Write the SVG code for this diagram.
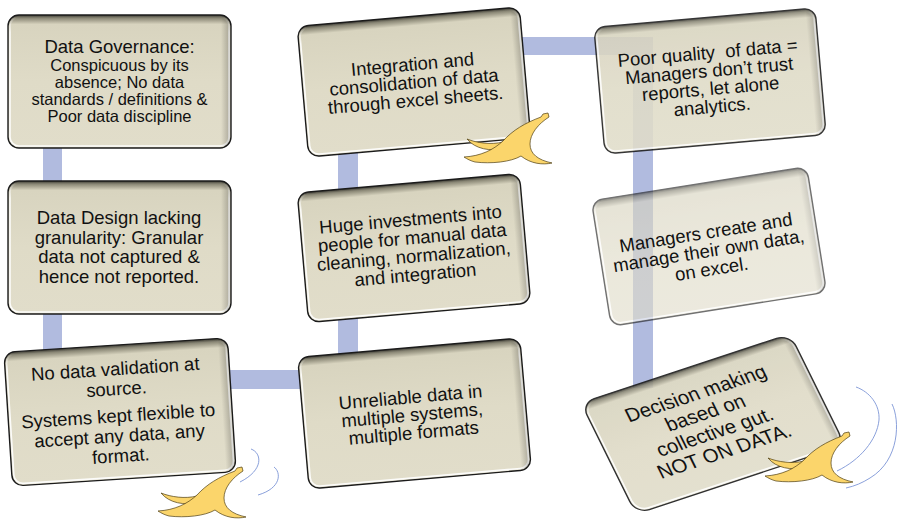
<svg xmlns="http://www.w3.org/2000/svg" xmlns:xlink="http://www.w3.org/1999/xlink" width="897" height="522" viewBox="0 0 897 522">
  <defs>
    <style>
      .face{fill:url(#face);stroke:#1b1b1b;stroke-width:1.4}
      .hl{fill:none;stroke:url(#hl);stroke-width:1.6}
      .rs{fill:url(#rs);stroke:none}
      .t{font-family:"Liberation Sans",Arial,sans-serif;font-size:18.5px;fill:#111;text-anchor:middle}
      .s{font-size:16.5px}
      .bar{fill:#b1bbdf}
      .peel{fill:#fbd56b;stroke:#4d3d12;stroke-width:0.7;stroke-linejoin:round}
      .swoosh{fill:none;stroke:#7d95d6;stroke-width:0.9}
    </style>
    <!-- bevelled card face: dark top lip fading into beige -->
    <linearGradient id="face" x1="0" y1="0" x2="0" y2="1">
      <stop offset="0" stop-color="#3d3c34"/>
      <stop offset="0.025" stop-color="#8d8a78"/>
      <stop offset="0.07" stop-color="#d8d4bf"/>
      <stop offset="0.5" stop-color="#dfdbc7"/>
      <stop offset="1" stop-color="#e1ddca"/>
    </linearGradient>
    <!-- inner highlight on sides and bottom -->
    <linearGradient id="hl" x1="0" y1="0" x2="0" y2="1">
      <stop offset="0" stop-color="#fff" stop-opacity="0"/>
      <stop offset="0.12" stop-color="#fff" stop-opacity="0.9"/>
    </linearGradient>
    <!-- soft shade along the right edge -->
    <linearGradient id="rs" x1="0" y1="0" x2="1" y2="0">
      <stop offset="0.955" stop-color="#000" stop-opacity="0"/>
      <stop offset="0.985" stop-color="#000" stop-opacity="0.18"/>
      <stop offset="1" stop-color="#000" stop-opacity="0.05"/>
    </linearGradient>
    <!-- banana peel -->
    <g id="peel">
      <path class="peel" d="M4,27 C14,31 28,33 40,30 L41,36 C28,40 12,37 4,27 Z"/>
      <path class="peel" d="M80,2 L85,1 L86,5 C75,12 67,22 67,32 C67,42 75,48 89,51 C80,53 68,52 58,44 C48,50 28,52 12,50 C8,49 4,47 1,45 C18,44 30,38 40,29 C50,18 62,11 78,5 Z"/>
    </g>
  </defs>

  <rect width="897" height="522" fill="#fff"/>

  <!-- connectors -->
  <g id="connectors">
    <rect class="bar" x="43" y="140" width="19" height="212"/>
    <rect class="bar" x="225" y="370" width="80" height="19"/>
    <rect class="bar" x="338" y="140" width="20" height="225"/>
    <rect class="bar" x="515" y="37" width="138" height="18"/>
    <rect class="bar" x="633" y="37" width="20" height="351"/>
  </g>

  <!-- nodes -->
  <g id="n1">
    <rect class="face" x="8" y="15" width="223" height="133" rx="11"/>
    <rect class="hl" x="10" y="17" width="219" height="129" rx="9"/>
    <rect class="rs" x="8" y="15" width="223" height="133" rx="11"/>
    <text class="t" x="119.5" y="53">Data Governance:</text>
    <text class="t s" x="119.5" y="71">Conspicuous by its</text>
    <text class="t s" x="119.5" y="88">absence; No data</text>
    <text class="t s" x="119.5" y="105">standards / definitions &amp;</text>
    <text class="t s" x="119.5" y="122">Poor data discipline</text>
  </g>

  <g id="n2">
    <rect class="face" x="8" y="181" width="223" height="133" rx="11"/>
    <rect class="hl" x="10" y="183" width="219" height="129" rx="9"/>
    <rect class="rs" x="8" y="181" width="223" height="133" rx="11"/>
    <text class="t" x="119" y="224">Data Design lacking</text>
    <text class="t" x="119" y="243.5">granularity: Granular</text>
    <text class="t" x="119" y="263">data not captured &amp;</text>
    <text class="t" x="119" y="282.5">hence not reported.</text>
  </g>

  <g id="n3" transform="rotate(-3.7 120 412)">
    <rect class="face" x="8" y="345" width="224" height="134" rx="11"/>
    <rect class="hl" x="10" y="347" width="220" height="130" rx="9"/>
    <rect class="rs" x="8" y="345" width="224" height="134" rx="11"/>
    <text class="t" x="118" y="375">No data validation at</text>
    <text class="t" x="118" y="395">source.</text>
    <text class="t" x="118" y="422">Systems kept flexible to</text>
    <text class="t" x="118" y="442">accept any data, any</text>
    <text class="t" x="118" y="462">format.</text>
  </g>

  <g id="n4" transform="rotate(-5 414.5 413.5)">
    <rect class="face" x="303" y="347.5" width="223" height="132" rx="11"/>
    <rect class="hl" x="305" y="349.5" width="219" height="128" rx="9"/>
    <rect class="rs" x="303" y="347.5" width="223" height="132" rx="11"/>
    <text class="t" x="412" y="403">Unreliable data in</text>
    <text class="t" x="412" y="421">multiple systems,</text>
    <text class="t" x="412" y="439">multiple formats</text>
  </g>

  <g id="n5" transform="rotate(-5 414 248)">
    <rect class="face" x="302.5" y="183" width="223" height="130" rx="11"/>
    <rect class="hl" x="304.5" y="185" width="219" height="126" rx="9"/>
    <rect class="rs" x="302.5" y="183" width="223" height="130" rx="11"/>
    <text class="t" x="413" y="225.5">Huge investments into</text>
    <text class="t" x="413" y="244">people for manual data</text>
    <text class="t" x="413" y="262.5">cleaning, normalization,</text>
    <text class="t" x="413" y="281">and integration</text>
  </g>

  <g id="n6" transform="rotate(-5 414 82)">
    <rect class="face" x="302.5" y="16.5" width="223" height="131" rx="11"/>
    <rect class="hl" x="304.5" y="18.5" width="219" height="127" rx="9"/>
    <rect class="rs" x="302.5" y="16.5" width="223" height="131" rx="11"/>
    <text class="t" x="414" y="70.5">Integration and</text>
    <text class="t" x="414" y="88.5">consolidation of data</text>
    <text class="t" x="414" y="106.5">through excel sheets.</text>
  </g>

  <g id="n7" transform="rotate(-5 710 81)">
    <g opacity="0.88">
      <rect class="face" x="599" y="17.5" width="222" height="127" rx="11"/>
      <rect class="hl" x="601" y="19.5" width="218" height="123" rx="9"/>
      <rect class="rs" x="599" y="17.5" width="222" height="127" rx="11"/>
    </g>
    <text class="t" x="710" y="59" xml:space="preserve" style="white-space:pre">Poor quality  of data =</text>
    <text class="t" x="710" y="77">Managers don’t trust</text>
    <text class="t" x="710" y="95">reports, let alone</text>
    <text class="t" x="710" y="113">analytics.</text>
  </g>

  <g id="n8" transform="rotate(-9 709 246.5)">
    <g opacity="0.62">
      <rect class="face" x="600" y="183" width="218" height="127" rx="11"/>
      <rect class="hl" x="602" y="185" width="214" height="123" rx="9"/>
      <rect class="rs" x="600" y="183" width="218" height="127" rx="11"/>
    </g>
    <text class="t" x="708" y="238.5">Managers create and</text>
    <text class="t" x="708" y="257">manage their own data,</text>
    <text class="t" x="708" y="275.5">on excel.</text>
  </g>

  <g id="n9" transform="matrix(0.95 -0.3136 0.4435 0.895 581 403)">
    <g opacity="0.9">
      <rect class="face" x="0" y="0" width="220" height="124" rx="14"/>
      <rect class="hl" x="2" y="2" width="216" height="120" rx="12"/>
      <rect class="rs" x="0" y="0" width="220" height="124" rx="14"/>
    </g>
    <text class="t" x="108" y="34" style="font-size:20px">Decision making</text>
    <text class="t" x="108" y="55.5" style="font-size:20px">based on</text>
    <text class="t" x="108" y="77" style="font-size:20px">collective gut.</text>
    <text class="t" x="108" y="98.5" style="font-size:20px">NOT ON DATA.</text>
  </g>

  <!-- banana peels and motion swooshes -->
  <g id="peels">
    <use xlink:href="#peel" href="#peel" transform="translate(463 112)"/>
    <use xlink:href="#peel" href="#peel" transform="translate(157 466)"/>
    <use xlink:href="#peel" href="#peel" transform="translate(764 431)"/>
    <path class="swoosh" d="M251,449 C262,453 264,470 240,482"/>
    <path class="swoosh" d="M274,467 C281,472 282,488 258,495"/>
    <path class="swoosh" d="M856,387 C870,392 880,405 879,420 C877,440 860,460 837,471"/>
    <path class="swoosh" d="M892,404 C900,420 900,460 870,478 C862,483 855,486 846,488"/>
  </g>
</svg>
